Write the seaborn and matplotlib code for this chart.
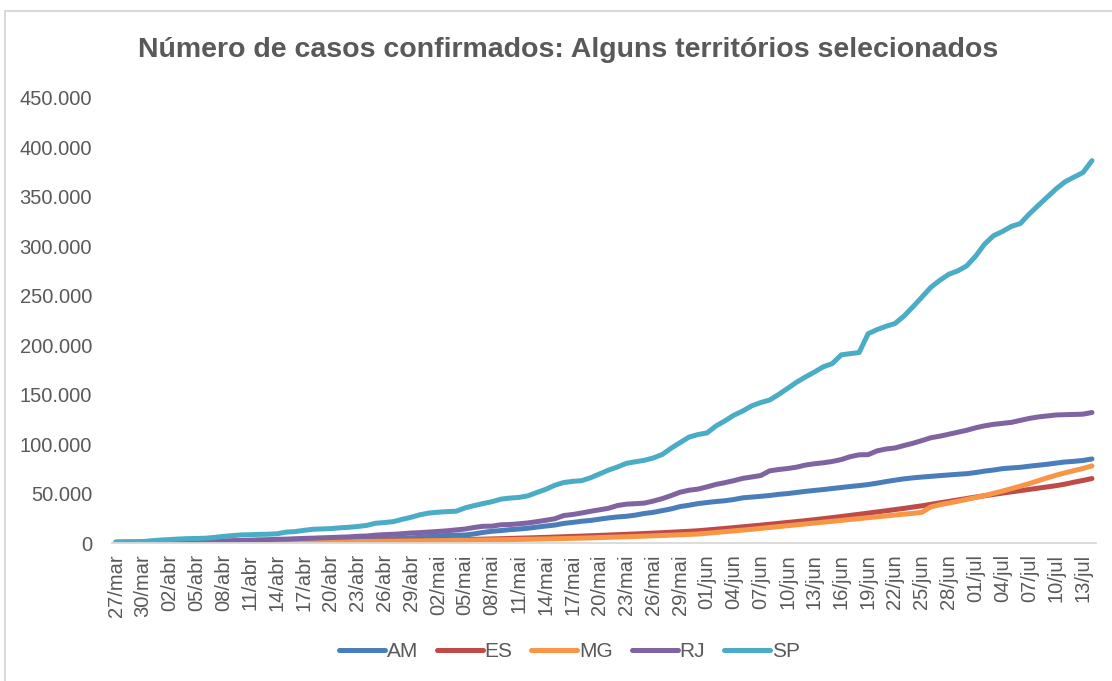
import numpy as np
import pandas as pd
import matplotlib
matplotlib.use('Agg')
import matplotlib.pyplot as plt
from matplotlib.ticker import FuncFormatter
from matplotlib.lines import Line2D
import seaborn as sns

# confirmed cases, one value per day from 27/mar to 14/jul (110 days)
am = [81, 111, 140, 151, 175, 200, 260, 311, 350, 399,
      532, 636, 804, 899, 981, 1050, 1206, 1275, 1484, 1554,
      1719, 1809, 1897, 2044, 2160, 2270, 2479, 2888, 3049, 3635,
      3928, 4337, 4801, 5254, 5723, 6683, 7316, 7599, 7957, 8109,
      9243, 10727, 11925, 12599, 13513, 14168, 14957, 16086, 17181, 18164,
      19835, 20853, 21997, 22855, 24153, 25367, 26374, 27038, 28213, 29867,
      31012, 32772, 34498, 36865, 38244, 39859, 40954, 41974, 42751, 44012,
      45701, 46462, 47228, 48048, 49210, 49992, 51110, 52250, 53171, 54084,
      55134, 56158, 57167, 58083, 59115, 60529, 62140, 63561, 64905, 65901,
      66715, 67401, 68163, 68846, 69519, 70103, 71256, 72701, 73802, 75202,
      75937, 76568, 77685, 78675, 79626, 80831, 81949, 82612, 83480, 85036]

es = [53, 58, 73, 86, 94, 114, 143, 197, 227, 281,
      327, 377, 413, 453, 530, 600, 680, 758, 851, 948,
      1038, 1126, 1204, 1301, 1398, 1495, 1610, 1727, 1853, 1989,
      2104, 2237, 2380, 2494, 2600, 2768, 2931, 3113, 3305, 3496,
      3710, 3932, 4161, 4397, 4638, 4903, 5168, 5443, 5730, 6042,
      6358, 6676, 7003, 7353, 7712, 8076, 8451, 8822, 9208, 9617,
      10039, 10474, 10930, 11401, 11890, 12413, 13189, 14004, 14772, 15598,
      16407, 17255, 18101, 18996, 19889, 20797, 21690, 22605, 23609, 24653,
      25720, 26823, 27945, 29083, 30254, 31426, 32589, 33804, 35031, 36339,
      37640, 39113, 40621, 42078, 43565, 45017, 46462, 47782, 49110, 50468,
      51755, 52990, 54217, 55473, 56743, 58017, 59546, 61535, 63269, 65211]

mg = [205, 261, 314, 330, 351, 397, 430, 488, 525, 560,
      614, 662, 698, 741, 791, 832, 869, 908, 950, 1000,
      1052, 1110, 1154, 1220, 1290, 1360, 1425, 1500, 1580, 1660,
      1750, 1850, 1960, 2070, 2180, 2300, 2410, 2530, 2650, 2780,
      2910, 3040, 3180, 3330, 3480, 3640, 3800, 3970, 4150, 4340,
      4540, 4760, 4990, 5240, 5500, 5770, 6050, 6340, 6640, 6950,
      7270, 7600, 7950, 8320, 8700, 9100, 9900, 10700, 11500, 12300,
      13100, 13900, 14800, 15700, 16600, 17500, 18400, 19300, 20200, 21100,
      22000, 22900, 23800, 24700, 25600, 26500, 27400, 28300, 29200, 30000,
      31000, 36500, 38700, 40400, 42200, 44100, 46000, 48000, 50200, 52500,
      55000, 57500, 60100, 63000, 65900, 68600, 71000, 73200, 75400, 78000]

rj = [493, 558, 600, 657, 708, 832, 1074, 1246, 1394, 1461,
      1688, 1938, 2216, 2464, 2607, 2855, 3231, 3410, 3743, 3944,
      4349, 4675, 4899, 5306, 5552, 5900, 6172, 6803, 7111, 7944,
      8504, 8869, 9453, 10166, 10546, 11139, 11721, 12391, 13295, 14156,
      15741, 16929, 17062, 18486, 18728, 19467, 20315, 21601, 23015, 24509,
      27805, 28852, 30372, 32089, 33589, 35122, 37912, 39298, 39794, 40340,
      42398, 44886, 47953, 51390, 53388, 54530, 56732, 59240, 61019, 63066,
      65395, 66788, 68241, 72979, 74323, 75336, 76688, 78826, 80158, 81138,
      82472, 84398, 87317, 89209, 89356, 93179, 95051, 96143, 98572, 100859,
      103558, 106458, 108000, 110000, 112000, 114000, 116500, 118500, 120000, 121000,
      122000, 124000, 126000, 127500, 128500, 129500, 129800, 130000, 130300, 132000]

sp = [1223, 1406, 1451, 1517, 2339, 2981, 3506, 4048, 4466, 4620,
      4866, 5682, 6708, 7480, 8216, 8419, 8755, 8895, 9371, 11043,
      11568, 12841, 13894, 14267, 14580, 15385, 15914, 16740, 17826, 20004,
      20715, 21696, 24041, 26158, 28698, 30374, 31174, 31772, 32187, 35582,
      37853, 39928, 41830, 44411, 45444, 46131, 47719, 51097, 54286, 58378,
      61183, 62345, 63066, 65995, 69859, 73739, 76871, 80558, 82161, 83625,
      86017, 89483, 95865, 101556, 107142, 109698, 111296, 118295, 123483, 129200,
      133497, 138726, 142012, 144593, 150138, 156316, 162520, 167900, 172875, 178202,
      181460, 190285, 191517, 192628, 211658, 215793, 219185, 221973, 229475, 238822,
      248587, 258508, 265581, 271737, 275145, 280186, 289935, 302179, 310702, 315011,
      320179, 323070, 332708, 341365, 349715, 358139, 365311, 370034, 374607, 386607]

estados = ['AM', 'ES', 'MG', 'RJ', 'SP']
cores = ['#4A7EBB', '#BE4B48', '#F79646', '#8064A2', '#4BACC6']

tick_labels = ['27/mar', '30/mar', '02/abr', '05/abr', '08/abr', '11/abr', '14/abr',
               '17/abr', '20/abr', '23/abr', '26/abr', '29/abr', '02/mai', '05/mai',
               '08/mai', '11/mai', '14/mai', '17/mai', '20/mai', '23/mai', '26/mai',
               '29/mai', '01/jun', '04/jun', '07/jun', '10/jun', '13/jun', '16/jun',
               '19/jun', '22/jun', '25/jun', '28/jun', '01/jul', '04/jul', '07/jul',
               '10/jul', '13/jul']

dias = list(range(len(sp)))
df = pd.DataFrame({'dia': dias, 'AM': am, 'ES': es, 'MG': mg, 'RJ': rj, 'SP': sp})
df = df.melt(id_vars='dia', var_name='estado', value_name='casos')

sns.set_style('white')
plt.rcParams['font.family'] = ['Liberation Sans', 'DejaVu Sans']
cinza = '#595959'

fig = plt.figure(figsize=(11.12, 6.81), dpi=100)
ax = fig.add_axes([0.1003, 0.2026, 0.8857, 0.6535])

sns.lineplot(data=df, x='dia', y='casos', hue='estado', hue_order=estados,
             palette=dict(zip(estados, cores)), linewidth=3.6, ax=ax,
             solid_capstyle='round')

ax.set_xlim(-0.5, len(sp) - 0.5)
ax.set_ylim(0, 450000)
ax.set_yticks(range(0, 450001, 50000))
ax.yaxis.set_major_formatter(FuncFormatter(lambda v, p: f'{int(v):,}'.replace(',', '.')))
ax.set_xticks(range(0, len(sp), 3))
ax.set_xticklabels(tick_labels, rotation=90)
ax.tick_params(axis='both', length=0, labelsize=14.5, colors=cinza, pad=8)
ax.tick_params(axis='y', pad=14)
ax.set_xlabel('')
ax.set_ylabel('')
for s in ['left', 'right', 'top']:
    ax.spines[s].set_visible(False)
ax.spines['bottom'].set_color('#D9D9D9')
ax.spines['bottom'].set_linewidth(1.3)

fig.suptitle('Número de casos confirmados: Alguns territórios selecionados',
             x=0.511, y=0.945, fontsize=20.5, fontweight='bold', color=cinza)

ax.get_legend().remove()
handles = [Line2D([], [], color=c, linewidth=3.6, solid_capstyle='round') for c in cores]
fig.legend(handles, estados, loc='center', bbox_to_anchor=(0.512, 0.043), ncol=5,
           frameon=False, fontsize=15, handlelength=2.2, handletextpad=0.1,
           columnspacing=0.9, labelcolor=cinza)

# chart frame border (left and top edges)
fig.add_artist(Line2D([5 / 1112, 5 / 1112], [0, 1 - 11 / 681], color='#D9D9D9', linewidth=1.5))
fig.add_artist(Line2D([5 / 1112, 1], [1 - 11 / 681, 1 - 11 / 681], color='#D9D9D9', linewidth=1.5))

fig.savefig('out.png', dpi=100)
